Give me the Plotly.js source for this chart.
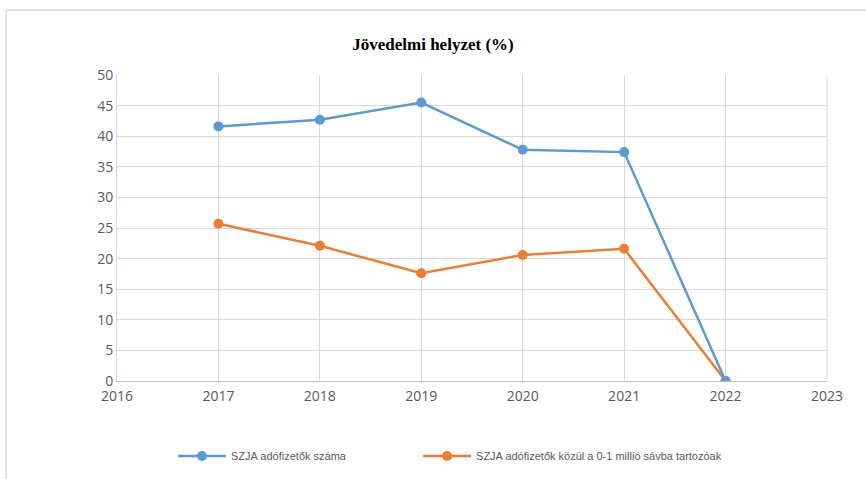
<!DOCTYPE html>
<html>
<head>
<meta charset="utf-8">
<script src="https://cdn.plot.ly/plotly-3.0.1.min.js"></script>
<style>html,body{margin:0;padding:0;background:#fff;}#chart{width:866px;height:479px;}</style>
</head>
<body>
<div id="chart"></div>
<script>
const years = [2017, 2018, 2019, 2020, 2021, 2022];
const szjaAdofizetok = [41.6, 42.7, 45.5, 37.8, 37.4, 0];
const szjaAlsoSav = [25.7, 22.1, 17.6, 20.6, 21.6, 0];
const seriesNames = ["SZJA adófizetők száma", "SZJA adófizetők közül a 0-1 millió sávba tartozóak"];
const xTicks = [2016, 2017, 2018, 2019, 2020, 2021, 2022, 2023];
const yTicks = [0, 5, 10, 15, 20, 25, 30, 35, 40, 45, 50];

const traces = [
  {x: years, y: szjaAlsoSav, name: seriesNames[1], type: 'scatter', mode: 'lines+markers', legend: 'legend2',
   line: {color: '#ed7d31', width: 2.5}, marker: {color: '#ed7d31', size: 10}},
  {x: years, y: szjaAdofizetok, name: seriesNames[0], type: 'scatter', mode: 'lines+markers', legend: 'legend',
   line: {color: '#5b9bd5', width: 2.5}, marker: {color: '#5b9bd5', size: 10}}
];
const legFont = {family: 'Liberation Sans Narrow, Liberation Sans, sans-serif', size: 11, color: '#595959'};
const layout = {
  width: 866, height: 479,
  margin: {l: 117, r: 39, t: 75, b: 98, autoexpand: false},
  paper_bgcolor: '#fff', plot_bgcolor: '#fff',
  title: {text: '<b>Jövedelmi helyzet (%)</b>', font: {family: 'Liberation Serif, serif', size: 17, color: '#000'},
          x: 0.5, xanchor: 'center', y: 1 - 44/479, yanchor: 'middle'},
  xaxis: {range: [2016, 2023], tickvals: xTicks, ticktext: xTicks.map(String), showgrid: true, gridcolor: '#d9d9d9', gridwidth: 1,
          zeroline: false, showline: true, linecolor: '#bfbfbf', linewidth: 1, mirror: false, ticks: '',
          ticklabelstandoff: 2,
          tickfont: {family: 'Open Sans, sans-serif', size: 14, color: '#595959'}, fixedrange: true},
  yaxis: {range: [0, 50], tickvals: yTicks, showgrid: true, gridcolor: '#d9d9d9', gridwidth: 1, zeroline: false,
          showline: true, linecolor: '#d9d9d9', linewidth: 1, ticks: '', ticklen: 4,
          tickfont: {family: 'Open Sans, sans-serif', size: 14, color: '#595959'}, fixedrange: true},
  showlegend: true,
  legend: {orientation: 'h', x: 0.0789, xanchor: 'left', y: -0.245, yanchor: 'middle',
           font: legFont, itemwidth: 48, bgcolor: 'rgba(0,0,0,0)'},
  legend2: {orientation: 'h', x: 0.424, xanchor: 'left', y: -0.245, yanchor: 'middle',
           font: legFont, itemwidth: 48, bgcolor: 'rgba(0,0,0,0)'},
  shapes: [
    {type: 'line', xref: 'paper', yref: 'paper', x0: (6-117)/710, x1: (866-117)/710, y0: 1 + 65/306, y1: 1 + 65/306, line: {color: '#d9d9d9', width: 1.5}},
    {type: 'line', xref: 'paper', yref: 'paper', x0: (6-117)/710, x1: (6-117)/710, y0: 1 + 65/306, y1: -98/306, line: {color: '#d9d9d9', width: 1.5}},
    {type: 'line', xref: 'paper', yref: 'paper', x0: 1, x1: 1, y0: 0, y1: 1, line: {color: '#d9d9d9', width: 1}}
  ]
};
Plotly.newPlot('chart', traces, layout, {displayModeBar: false, staticPlot: true});
</script>
</body>
</html>
